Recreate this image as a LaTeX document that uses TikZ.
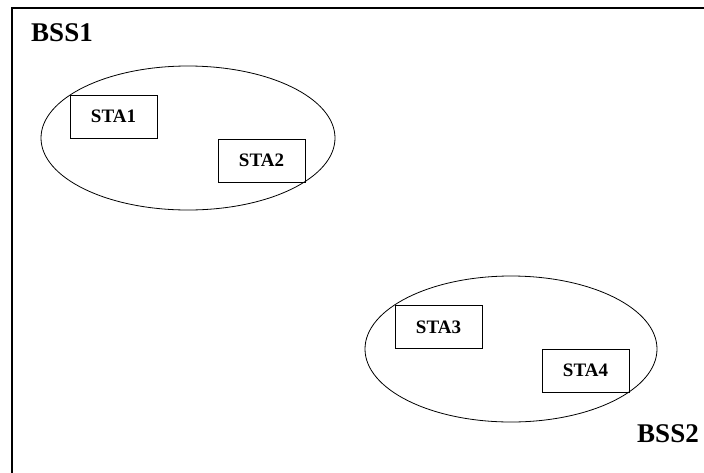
\documentclass[tikz,border=0pt]{standalone}
\usepackage{fontspec}
\setmainfont{Liberation Serif}
\usepackage{tikz}

\begin{document}
\begin{tikzpicture}[x=1pt, y=-1pt,
  sta/.style={draw, thick, minimum width=87pt, minimum height=43pt, inner sep=0pt, font=\fontsize{19}{19}\selectfont\bfseries},
  bss/.style={inner sep=0pt, font=\fontsize{27}{27}\selectfont\bfseries}]
\useasboundingbox (0,0) rectangle (704,472);

% outer frame (runs off the right and bottom edge)
\draw[line width=1.5pt] (12,8) rectangle (720,490);

% basic service sets
\draw[thick] (188,138) ellipse[x radius=147, y radius=72];
\draw[thick] (511,349) ellipse[x radius=146, y radius=73];

\node[bss] (bss1) at (62,33) {BSS1};
\node[bss] (bss2) at (668,434) {BSS2};

% stations
\node[sta] (sta1) at (113.5,116.5) {STA1};
\node[sta] (sta2) at (261.5,160.5) {STA2};
\node[sta] (sta3) at (438.5,327) {STA3};
\node[sta] (sta4) at (585.5,370.5) {STA4};
\end{tikzpicture}
\end{document}
